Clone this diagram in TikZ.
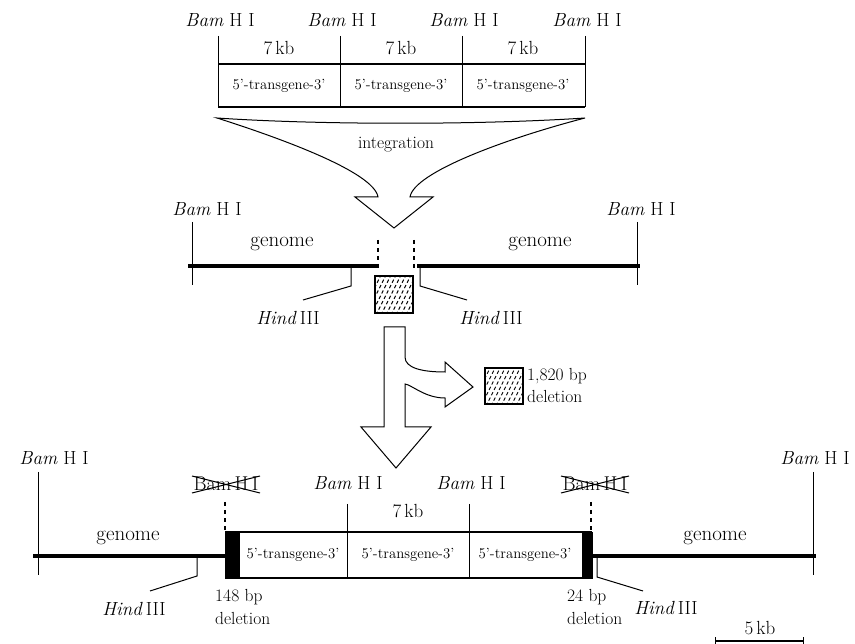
\documentclass[tikz,border=0pt]{standalone}
\newcommand{\myhatch}[4]{%
  \begin{scope}
    \clip (#1,#2) rectangle (#3,#4);
    \foreach \k in {-44,-39,...,46}
      \draw[line width=0.9pt, dash pattern=on 3.5pt off 2.5pt] (#1+\k,#4+2) -- ++(24,-48);
  \end{scope}
  \draw[line width=1.4pt] (#1,#2) rectangle (#3,#4);}
\begin{document}
\begin{tikzpicture}[x=1pt,y=-1pt,
  thinline/.style={line width=1pt},
  boxline/.style={line width=1.2pt},
  genomeline/.style={line width=3.8pt},
  dashline/.style={line width=1.1pt, dash pattern=on 4pt off 4pt},
  lbl/.style={inner sep=0pt, font=\fontsize{19}{21}\selectfont},
  klbl/.style={inner sep=0pt, font=\fontsize{19}{21}\selectfont},
  glbl/.style={inner sep=0pt, font=\fontsize{21}{23}\selectfont},
  slbl/.style={inner sep=0pt, font=\fontsize{17.5}{19}\selectfont},
  tg/.style={inner sep=0pt, font=\fontsize{14.8}{16}\selectfont},
  xlbl/.style={inner sep=0pt, font=\fontsize{20}{22}\selectfont},
  blk/.style={fill=black, draw=black}]
\useasboundingbox (0,0) rectangle (855,644);

% ---------------- top: transgene array ----------------
\foreach \x/\n in {218/a,340/b,462/c,585/d}{
  \node[lbl] (tb\n) at (\x+2,20) {\textit{Bam} H I};
  \draw[thinline] (\x,36) -- (\x,107);
}
\draw[boxline] (218,64) -- (585,64);
\draw[boxline] (218,107) -- (585,107);
\foreach \x/\n in {279/a,401/b,523/c}{
  \node[klbl] (tk\n) at (\x,48) {7\,kb};
  \node[tg] (tt\n) at (\x,86) {5'-transgene-3'};
}

% integration arrow
\draw[thinline, line join=miter]
  (217,118) .. controls (280,138) and (374,172) .. (378,197)
  -- (355,197) -- (394,228) -- (433,197) -- (410,197)
  .. controls (414,172) and (508,138) .. (585,118)
  .. controls (480,125) and (320,125) .. (217,118) -- cycle;
\node[slbl] (integ) at (396,145) {integration};

% ---------------- middle: genome with insertion site ----------------
\node[lbl] (mbl) at (207,209) {\textit{Bam} H I};
\node[lbl] (mbr) at (641,209) {\textit{Bam} H I};
\draw[thinline] (192,222) -- (192,285);
\draw[thinline] (637,222) -- (637,285);
\draw[genomeline] (188,266) -- (378,266);
\draw[genomeline] (417,266) -- (640,266);
\node[glbl] (mgl) at (282,244) {genome};
\node[glbl] (mgr) at (540,244) {genome};
\draw[dashline] (378,240) -- (378,268);
\draw[dashline] (414,240) -- (414,268);
\coordinate (mhl) at (351,266);
\coordinate (mhr) at (420,266);
\node[lbl] (mhindl) at (288,318) {\textit{Hind}\,III};
\node[lbl] (mhindr) at (491,318) {\textit{Hind}\,III};
\draw[thinline] (mhl) -- (351,286) -- (303,300);
\draw[thinline] (mhr) -- (420,286) -- (467,300);
\myhatch{375}{276}{413}{313}

% branching arrow
\draw[thinline, line join=miter]
  (384,327) -- (405,327) -- (405,357)
  .. controls (405,368) and (422,372) .. (445,372)
  -- (445,362) -- (473,387) -- (445,407) -- (445,398)
  .. controls (425,398) and (412,385) .. (405,384)
  -- (405,427) -- (431,427) -- (396,468) -- (361,427) -- (384,427) -- cycle;
\myhatch{485}{368}{523}{404}
\node[slbl, anchor=west] (del1) at (527,376) {1,820 bp};
\node[slbl, anchor=west] (del2) at (527,396) {deletion};

% ---------------- bottom: integrated transgene ----------------
\node[lbl] (bbl) at (54,458) {\textit{Bam} H I};
\node[lbl] (bbr) at (815,458) {\textit{Bam} H I};
\draw[thinline] (38,472) -- (38,575);
\draw[thinline] (813,472) -- (813,575);
\draw[genomeline] (33,556) -- (226,556);
\draw[genomeline] (591,556) -- (816,556);
\node[glbl] (bgl) at (128,538) {genome};
\node[glbl] (bgr) at (715,538) {genome};

% box
\draw[boxline] (225,532) -- (592,532);
\draw[boxline] (225,578) -- (592,578);
\draw[thinline] (347,504) -- (347,578);
\draw[thinline] (469,504) -- (469,578);
\fill[blk] (225,532) rectangle (239,578);
\fill[blk] (582,532) rectangle (592,578);
\draw[dashline] (225,502) -- (225,532);
\draw[dashline] (591,502) -- (591,532);

\node[lbl] (bm1) at (348,483) {\textit{Bam} H I};
\node[lbl] (bm2) at (471,483) {\textit{Bam} H I};
\node[klbl] (bk) at (408,511) {7\,kb};
\node[tg] (bt1) at (293,555) {5'-transgene-3'};
\node[tg] (bt2) at (408,555) {5'-transgene-3'};
\node[tg] (bt3) at (525,555) {5'-transgene-3'};

% crossed-out sites
\node[xlbl] (bx1) at (226,484) {Bam\,H\,I};
\node[xlbl] (bx2) at (595,484) {Bam\,H\,I};
\foreach \n in {bx1,bx2}{
  \draw[thinline] ([shift={(-34,-8)}]\n.center) -- ([shift={(34,9)}]\n.center);
  \draw[thinline] ([shift={(-34,9)}]\n.center) -- ([shift={(34,-8)}]\n.center);
}

% HindIII leaders
\coordinate (bhl) at (197,556);
\coordinate (bhr) at (597,556);
\draw[thinline] (bhl) -- (197,576) -- (150,591);
\draw[thinline] (bhr) -- (597,577) -- (643,591);
\node[lbl] (bhindl) at (134,609) {\textit{Hind}\,III};
\node[lbl] (bhindr) at (666,608) {\textit{Hind}\,III};

\node[slbl, anchor=west] (d148a) at (215,597) {148 bp};
\node[slbl, anchor=west] (d148b) at (215,618) {deletion};
\node[slbl, anchor=west] (d24a) at (567,597) {24 bp};
\node[slbl, anchor=west] (d24b) at (567,618) {deletion};

% scale bar
\node[klbl] (scale) at (760,628) {5\,kb};
\coordinate (sa) at (715,641);
\coordinate (sb) at (803,641);
\draw[line width=1.3pt] (sa) -- (sb);
\draw[thinline] (715,637) -- (715,644);
\draw[thinline] (803,637) -- (803,644);
\end{tikzpicture}
\end{document}
